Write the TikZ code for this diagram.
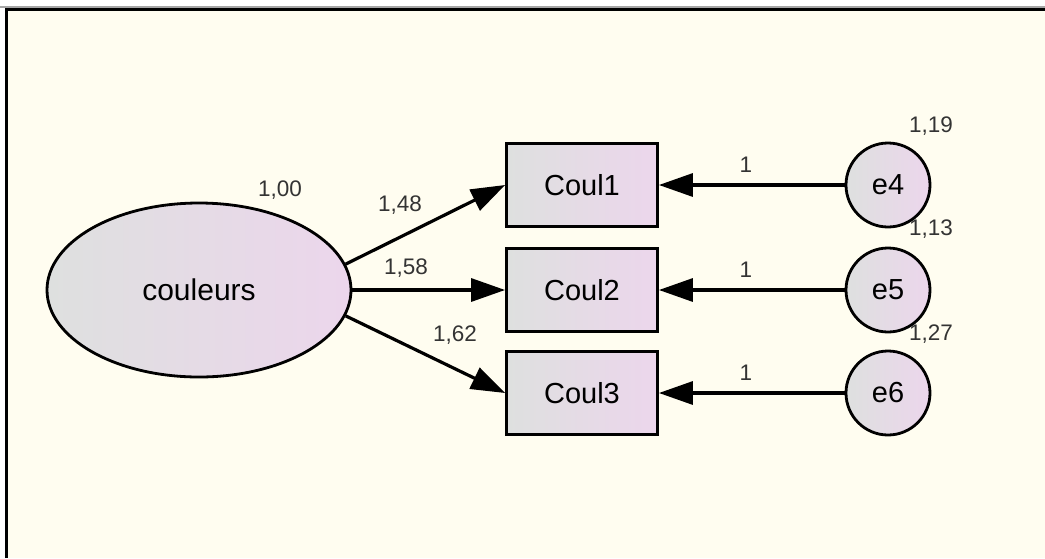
\documentclass[tikz,border=0pt]{standalone}
\usepackage{fontspec}
\setmainfont{Liberation Sans}
\usepackage{tikz}
\usetikzlibrary{shapes.geometric}
\usetikzlibrary{arrows.meta}

\definecolor{paper}{RGB}{255,253,240}
\definecolor{fillleft}{RGB}{222,224,223}
\definecolor{fillright}{RGB}{236,214,236}

\tikzset{
  latentvar/.style={ellipse, draw=black, line width=2.8, left color=fillleft, right color=fillright, minimum width=304, minimum height=174, inner sep=0, font=\fontsize{30}{36}\selectfont},
  obsvar/.style={rectangle, draw=black, line width=2.8, left color=fillleft, right color=fillright, minimum width=151, minimum height=83, inner sep=0, font=\fontsize{29}{35}\selectfont},
  errvar/.style={circle, draw=black, line width=2.8, left color=fillleft, right color=fillright, minimum size=84, inner sep=0, font=\fontsize{29}{35}\selectfont},
  patharrow/.style={draw=black, line width=3.2, -{Triangle[length=34,width=23]}},
  estlabel/.style={inner sep=0.75pt, text=black!80, font=\fontsize{22.5}{27}\selectfont},
}

\begin{document}
\begin{tikzpicture}[x=1pt,y=1pt,yscale=-1,xscale=1]
\useasboundingbox (0,0) rectangle (1045,558);
% frame
\fill [paper] (6,9) rectangle (1045,558) ;
\draw [black!35, line width=1.5] (0,7) -- (1045,7) ;
\draw [black, line width=3] (6,558) -- (6,9.5) -- (1045,9.5) ;

% variables
\node [latentvar] (couleurs) at (199,290) {couleurs};
\node [obsvar] (coul1) at (582,185) {Coul1};
\node [obsvar] (coul2) at (582,290) {Coul2};
\node [obsvar] (coul3) at (582,393) {Coul3};
\node [errvar] (e4) at (888,185) {e4};
\node [errvar] (e5) at (888,290) {e5};
\node [errvar] (e6) at (888,393) {e6};

% paths
\draw [patharrow] (couleurs.10) -- (coul1.west) ;
\draw [patharrow] (couleurs.east) -- (coul2.west) ;
\draw [patharrow] (couleurs.-10) -- (coul3.west) ;
\draw [patharrow] (e4) -- (coul1) ;
\draw [patharrow] (e5) -- (coul2) ;
\draw [patharrow] (e6) -- (coul3) ;

% estimates
\node [estlabel] (varcoul) at (280,190) {1,00};
\node [estlabel] (w1) at (400,205) {1,48};
\node [estlabel] (w2) at (406,268) {1,58};
\node [estlabel] (w3) at (455,335) {1,62};
\node [estlabel] (f4) at (746,165) {1};
\node [estlabel] (f5) at (746,270) {1};
\node [estlabel] (f6) at (746,373) {1};
\node [estlabel] (var4) at (931,126) {1,19};
\node [estlabel] (var5) at (931,229) {1,13};
\node [estlabel] (var6) at (931,334) {1,27};
\end{tikzpicture}
\end{document}
